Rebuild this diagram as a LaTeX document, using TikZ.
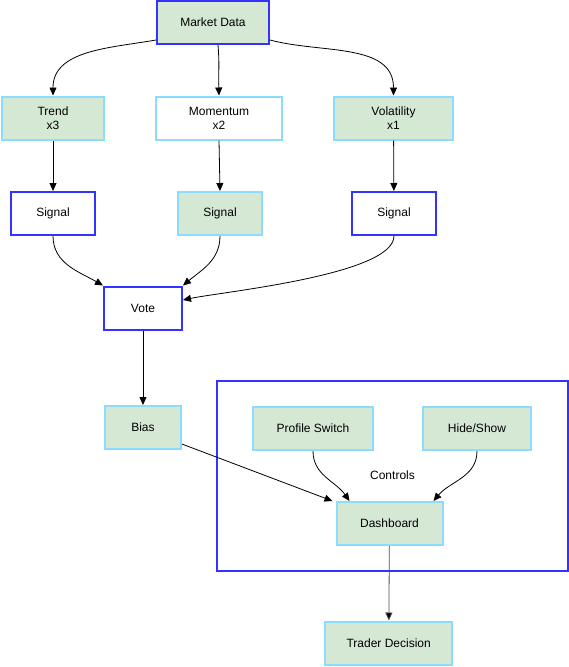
\documentclass[tikz,border=0pt]{standalone}
\usepackage{fontspec}
\setmainfont{Liberation Sans}
\usetikzlibrary{arrows.meta}
\definecolor{boxgreen}{HTML}{D5E8D4}
\definecolor{edgeblue}{HTML}{8CDCFF}
\definecolor{strongblue}{HTML}{3333FF}
\begin{document}
\begin{tikzpicture}[x=1pt,y=1pt,
    font=\fontsize{12}{14}\selectfont,
    box/.style={draw,line width=2pt,inner sep=0pt,align=center,minimum height=43pt},
    greenbox/.style={box,draw=edgeblue,fill=boxgreen},
    lightbox/.style={box,draw=edgeblue,fill=white},
    bluebox/.style={box,draw=strongblue,fill=white},
    bluegreen/.style={box,draw=strongblue,fill=boxgreen},
    arr/.style={-{Triangle[length=8pt,width=7pt]},line width=0.8pt}]
        \useasboundingbox (0,0) rectangle (569,-667);

        % top row
        \node[bluegreen,minimum width=112pt] (market) at (213,-22.5) {Market Data};

        \node[greenbox,minimum width=102pt] (trend) at (53,-118) {Trend\\x3};
        \node[lightbox,minimum width=126pt] (momentum) at (219,-118) {Momentum\\x2};
        \node[greenbox,minimum width=119pt] (volatility) at (393.5,-118) {Volatility\\x1};

        % signals
        \node[bluebox,minimum width=84pt] (sigtrend) at (53,-213.5) {Signal};
        \node[greenbox,minimum width=84pt] (sigmom) at (220,-213.5) {Signal};
        \node[bluebox,minimum width=84pt] (sigvol) at (394,-213.5) {Signal};

        \node[bluebox,minimum width=78pt] (vote) at (143,-308) {Vote};
        \node[greenbox,minimum width=76pt] (bias) at (143,-427.5) {Bias};

        % controls group
        \draw[strongblue,line width=2pt] (217,-381) rectangle (567.5,-571);
        \node[greenbox,minimum width=120pt] (profile) at (313,-428.5) {Profile Switch};
        \node[greenbox,minimum width=108pt] (hide) at (477,-428.5) {Hide/Show};
        \node (controls) at (392.5,-475) {Controls};
        \node[greenbox,minimum width=106pt] (dashboard) at (389.5,-523.5) {Dashboard};

        \node[greenbox,minimum width=127pt] (decision) at (388.7,-643) {Trader Decision};

        \draw[arr] (market.west |- 0,-40) to[out=190,in=90] (trend.north);
        \draw[arr] (218,-45) to[out=-85,in=92] (momentum.north);
        \draw[arr] (market.east |- 0,-40) to[out=-15,in=90] (volatility.north);

        \draw[arr] (trend) -- (sigtrend);
        \draw[arr] (momentum.south) -- (sigmom.north);
        \draw[arr] (volatility) -- (sigvol);

        \draw[arr] (sigtrend.south) to[out=-90,in=150] (vote.north west);
        \draw[arr] (sigmom.south) to[out=-90,in=40] (vote.north east);
        \draw[arr] (sigvol.south) to[out=-90,in=12,looseness=0.45] ([yshift=8pt]vote.east);

        \draw[arr] (vote) -- (bias);
        \draw[arr] (bias.-23) -- ([xshift=-3pt]dashboard.north west);

        \draw[arr] (profile.south) to[out=-90,in=125] ([xshift=14pt]dashboard.north west);
        \draw[arr] (hide.south) to[out=-90,in=50] ([xshift=-10pt]dashboard.north east);

        \draw[arr,draw=black!70,-{Triangle[length=8pt,width=7pt,fill=black]}] (dashboard) -- (decision);
\end{tikzpicture}
\end{document}
